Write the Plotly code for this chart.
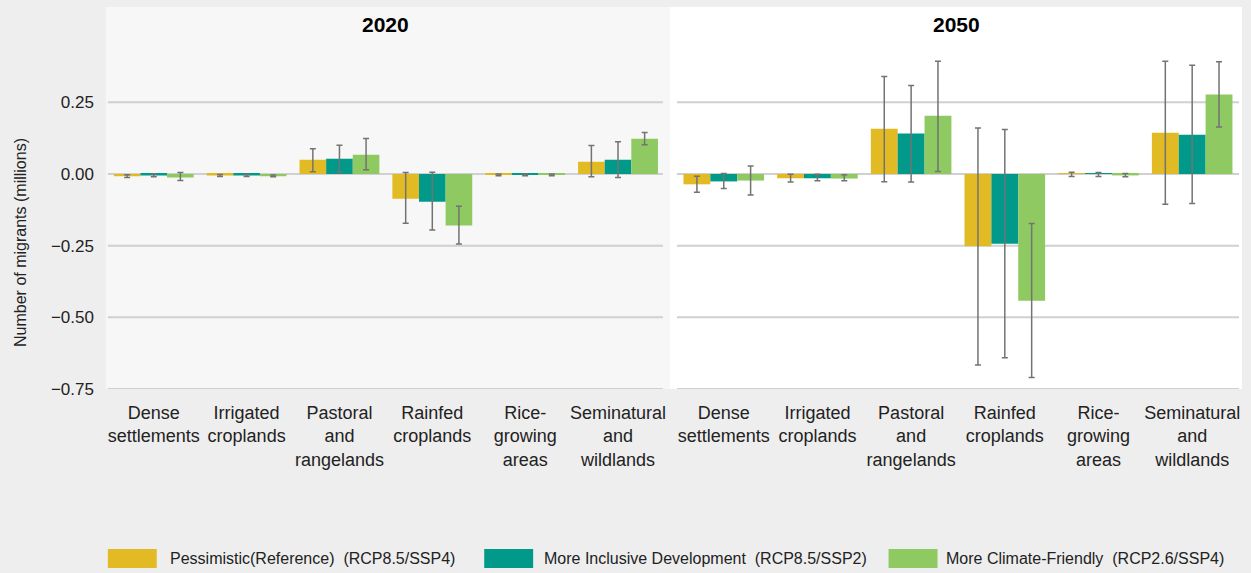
import plotly.graph_objects as go

categories = ["Dense<br>settlements", "Irrigated<br>croplands", "Pastoral<br>and<br>rangelands",
              "Rainfed<br>croplands", "Rice-<br>growing<br>areas", "Seminatural<br>and<br>wildlands"]
series_names = ["Pessimistic(Reference)  (RCP8.5/SSP4)",
                "More Inclusive Development  (RCP8.5/SSP2)",
                "More Climate-Friendly  (RCP2.6/SSP4)"]
colors = ["#E1BA24", "#00998A", "#8EC961"]

# 2020 values (millions)
v2020_pess = [-0.008, -0.005, 0.050, -0.086, -0.003, 0.043]
v2020_incl = [-0.005, -0.005, 0.053, -0.097, -0.003, 0.050]
v2020_clim = [-0.012, -0.008, 0.067, -0.180, -0.003, 0.123]
lo2020_pess = [-0.012, -0.009, 0.008, -0.172, -0.006, -0.010]
hi2020_pess = [-0.003, -0.002, 0.088, 0.005, 0.000, 0.099]
lo2020_incl = [-0.010, -0.009, 0.007, -0.195, -0.006, -0.012]
hi2020_incl = [0.000, -0.002, 0.100, 0.006, 0.000, 0.112]
lo2020_clim = [-0.023, -0.010, 0.015, -0.244, -0.006, 0.102]
hi2020_clim = [0.005, -0.004, 0.124, -0.113, 0.000, 0.145]

# 2050 values (millions)
v2050_pess = [-0.036, -0.015, 0.158, -0.252, 0.003, 0.144]
v2050_incl = [-0.026, -0.015, 0.141, -0.243, 0.003, 0.137]
v2050_clim = [-0.023, -0.016, 0.203, -0.442, -0.005, 0.277]
lo2050_pess = [-0.064, -0.028, -0.027, -0.666, -0.009, -0.106]
hi2050_pess = [-0.008, -0.001, 0.340, 0.160, 0.006, 0.393]
lo2050_incl = [-0.051, -0.024, -0.028, -0.641, -0.009, -0.103]
hi2050_incl = [0.002, -0.001, 0.309, 0.155, 0.005, 0.379]
lo2050_clim = [-0.073, -0.024, 0.009, -0.710, -0.010, 0.164]
hi2050_clim = [0.028, -0.003, 0.393, -0.173, 0.002, 0.391]

y_ticks = [0.25, 0.0, -0.25, -0.5, -0.75]

W, H = 1251, 573
T, B = 7, 389
FONT = "Liberation Sans, Arial, sans-serif"


def px_x(px):
    return px / W


def px_y(py):
    return (B - py) / (B - T)


fig = go.Figure()

panels = [
    ("x", [v2020_pess, v2020_incl, v2020_clim],
     [lo2020_pess, lo2020_incl, lo2020_clim], [hi2020_pess, hi2020_incl, hi2020_clim]),
    ("x2", [v2050_pess, v2050_incl, v2050_clim],
     [lo2050_pess, lo2050_incl, lo2050_clim], [hi2050_pess, hi2050_incl, hi2050_clim]),
]
for xa, vals, los, his in panels:
    for i in range(3):
        v, lo, hi = vals[i], los[i], his[i]
        fig.add_trace(go.Bar(
            x=categories, y=v, name=series_names[i], xaxis=xa, yaxis="y",
            marker=dict(color=colors[i], line=dict(width=0)),
            showlegend=False,
            error_y=dict(type="data", symmetric=False,
                         array=[h - a for h, a in zip(hi, v)],
                         arrayminus=[a - l for a, l in zip(v, lo)],
                         color="#737373", thickness=1.5, width=3),
        ))

axis_common = dict(type="category", showgrid=False, zeroline=False, showline=False,
                   ticks="", ticklabelstandoff=11,
                   tickfont=dict(family=FONT, size=18, color="#222222"))
fig.update_layout(
    width=W, height=H,
    margin=dict(l=0, r=0, t=T, b=H - B),
    paper_bgcolor="#EEEEEE", plot_bgcolor="rgba(0,0,0,0)",
    barmode="group", bargap=0.14, bargroupgap=0,
    showlegend=False,
    xaxis=dict(domain=[px_x(107.5), px_x(665.5)], anchor="y", **axis_common),
    xaxis2=dict(domain=[px_x(678), px_x(1241)], anchor="y", **axis_common),
    yaxis=dict(range=[-0.75, 0.5824], tickvals=y_ticks, tickformat=".2f",
               showgrid=False, zeroline=False, showline=False,
               ticks="outside", ticklen=9, tickcolor="rgba(0,0,0,0)",
               tickfont=dict(family=FONT, size=17, color="#222222")),
)

# panel backgrounds
fig.add_shape(type="rect", xref="paper", yref="paper", x0=px_x(106), x1=px_x(671),
              y0=0, y1=1, fillcolor="#F7F7F7", line=dict(width=0), layer="below")
fig.add_shape(type="rect", xref="paper", yref="paper", x0=px_x(671), x1=px_x(1244),
              y0=0, y1=1, fillcolor="#FFFFFF", line=dict(width=0), layer="below")
# gridlines
for t in y_ticks:
    for x0, x1 in [(108, 664), (678, 1241)]:
        fig.add_shape(type="line", xref="paper", yref="y", x0=px_x(x0), x1=px_x(x1),
                      y0=t, y1=t, line=dict(color="#D0D0D0", width=2), layer="below")

# panel titles
for label, cx in [("2020", 386), ("2050", 958)]:
    fig.add_annotation(text="<b>" + label + "</b>", xref="paper", yref="paper",
                       x=px_x(cx), y=px_y(25), xanchor="center", yanchor="middle",
                       showarrow=False, font=dict(family=FONT, size=21, color="#000000"))

# y axis title
fig.add_annotation(text="Number of migrants (millions)", xref="paper", yref="paper",
                   x=px_x(20), y=px_y(242), textangle=-90, xanchor="center", yanchor="middle",
                   showarrow=False, font=dict(family=FONT, size=16, color="#222222"))

# legend
legend_pos = [(108, 168), (485, 543), (890, 946)]
for i, (sx, tx) in enumerate(legend_pos):
    fig.add_shape(type="rect", xref="paper", yref="paper",
                  x0=px_x(sx), x1=px_x(sx + 49), y0=px_y(549), y1=px_y(568),
                  fillcolor=colors[i], line=dict(width=0))
    fig.add_annotation(text=series_names[i].replace("  ", "&nbsp; "), xref="paper", yref="paper",
                       x=px_x(tx), y=px_y(558), xanchor="left", yanchor="middle", showarrow=False,
                       font=dict(family=FONT, size=16, color="#222222"))

fig.write_html("out.html",
               config={"displayModeBar": False},
               post_script="document.body.style.margin='0';"
                           "document.body.style.background='#EEEEEE';")
